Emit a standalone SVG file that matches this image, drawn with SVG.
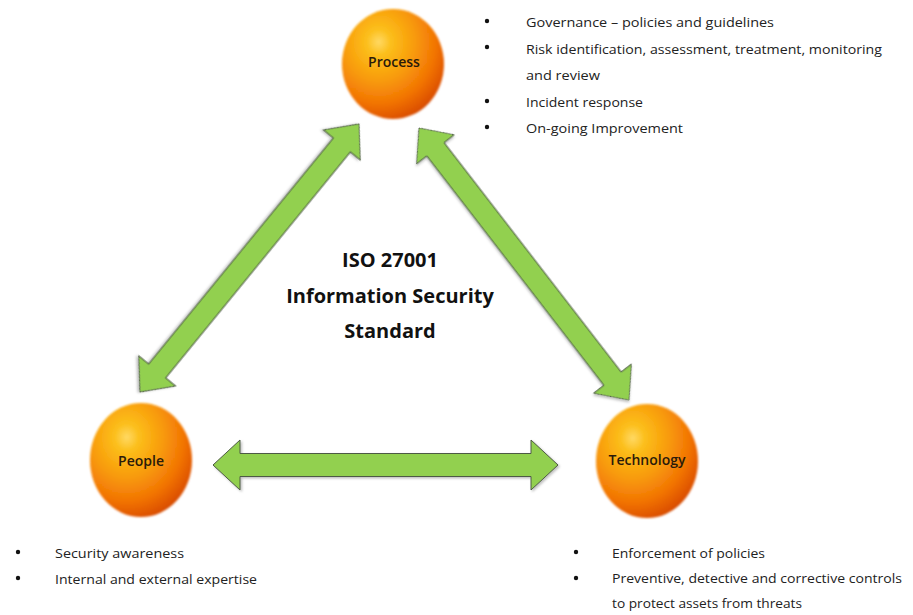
<svg xmlns="http://www.w3.org/2000/svg" width="913" height="615" viewBox="0 0 913 615">
  <style>
    .node-label { font-family: "Open Sans", "Liberation Sans", sans-serif; font-size: 14px; font-weight: 600; fill: #2a1a0a; text-anchor: middle; }
    .title { font-family: "Open Sans", "Liberation Sans", sans-serif; font-size: 20px; font-weight: 700; fill: #111; text-anchor: middle; }
    .item { font-family: "Open Sans", "Liberation Sans", sans-serif; font-size: 13.5px; fill: #222; }
    .arrow { fill: #92d050; stroke: #4d5a44; stroke-width: 1; filter: url(#shadow); }
    .sphere { filter: url(#soft); }
    .bullet { fill: #111; }
  </style>
  <defs>
    <radialGradient id="ball" cx="0.36" cy="0.3" r="0.85" fx="0.36" fy="0.3">
      <stop offset="0" stop-color="#ffd964"/>
      <stop offset="0.14" stop-color="#fcbf1c"/>
      <stop offset="0.42" stop-color="#f89a08"/>
      <stop offset="0.66" stop-color="#f27406"/>
      <stop offset="0.85" stop-color="#dc5005"/>
      <stop offset="1" stop-color="#962608"/>
    </radialGradient>
    <filter id="soft" x="-10%" y="-10%" width="120%" height="120%">
      <feGaussianBlur stdDeviation="0.8"/>
    </filter>
    <filter id="shadow" x="-10%" y="-20%" width="120%" height="140%">
      <feDropShadow dx="1.5" dy="1.5" stdDeviation="1.2" flood-color="#000" flood-opacity="0.25"/>
    </filter>
    <!-- double-headed block arrow along +x, length 345 -->
    <polygon id="dbl" points="0,0 27,-25 27,-11.5 318,-11.5 318,-25 345,0 318,25 318,11.5 27,11.5 27,25"/>
  </defs>

  <rect width="913" height="615" fill="#ffffff"/>

  <!-- connectors -->
  <g id="connectors">
    <use href="#dbl" class="arrow" transform="translate(359,124) rotate(129.26) scale(1.003,0.95)"/>
    <use href="#dbl" class="arrow" transform="translate(419,128) rotate(52.33) scale(0.996,0.95)"/>
    <use href="#dbl" class="arrow" transform="translate(213,465)"/>
  </g>

  <!-- nodes -->
  <g id="process">
    <ellipse class="sphere" cx="393" cy="64" rx="51" ry="55" fill="url(#ball)"/>
    <text class="node-label" x="394" y="67">Process</text>
  </g>
  <g id="people">
    <ellipse class="sphere" cx="141" cy="460" rx="51" ry="57" fill="url(#ball)"/>
    <text class="node-label" x="141" y="466">People</text>
  </g>
  <g id="technology">
    <ellipse class="sphere" cx="647" cy="461" rx="51" ry="57" fill="url(#ball)"/>
    <text class="node-label" x="647" y="465">Technology</text>
  </g>

  <!-- central title -->
  <g id="title">
    <text class="title" x="390" y="267">ISO 27001</text>
    <text class="title" x="390" y="303">Information Security</text>
    <text class="title" x="390" y="338">Standard</text>
  </g>

  <!-- process items -->
  <g id="process-items">
    <circle class="bullet" cx="487" cy="21" r="2.2"/>
    <text class="item" x="526" y="27" textLength="248" lengthAdjust="spacingAndGlyphs">Governance – policies and guidelines</text>
    <circle class="bullet" cx="487" cy="47" r="2.2"/>
    <text class="item" x="526" y="54" textLength="356" lengthAdjust="spacingAndGlyphs">Risk identification, assessment, treatment, monitoring</text>
    <text class="item" x="526" y="80" textLength="74" lengthAdjust="spacingAndGlyphs">and review</text>
    <circle class="bullet" cx="487" cy="101" r="2.2"/>
    <text class="item" x="526" y="107" textLength="117" lengthAdjust="spacingAndGlyphs">Incident response</text>
    <circle class="bullet" cx="487" cy="127" r="2.2"/>
    <text class="item" x="526" y="133" textLength="157" lengthAdjust="spacingAndGlyphs">On-going Improvement</text>
  </g>

  <!-- people items -->
  <g id="people-items">
    <circle class="bullet" cx="18" cy="552" r="2.2"/>
    <text class="item" x="55" y="558" textLength="129" lengthAdjust="spacingAndGlyphs">Security awareness</text>
    <circle class="bullet" cx="18" cy="578" r="2.2"/>
    <text class="item" x="55" y="584" textLength="202" lengthAdjust="spacingAndGlyphs">Internal and external expertise</text>
  </g>

  <!-- technology items -->
  <g id="technology-items">
    <circle class="bullet" cx="576" cy="552" r="2.2"/>
    <text class="item" x="612" y="558" textLength="153" lengthAdjust="spacingAndGlyphs">Enforcement of policies</text>
    <circle class="bullet" cx="576" cy="578" r="2.2"/>
    <text class="item" x="612" y="583" textLength="290" lengthAdjust="spacingAndGlyphs">Preventive, detective and corrective controls</text>
    <text class="item" x="612" y="608" textLength="190" lengthAdjust="spacingAndGlyphs">to protect assets from threats</text>
  </g>
</svg>
